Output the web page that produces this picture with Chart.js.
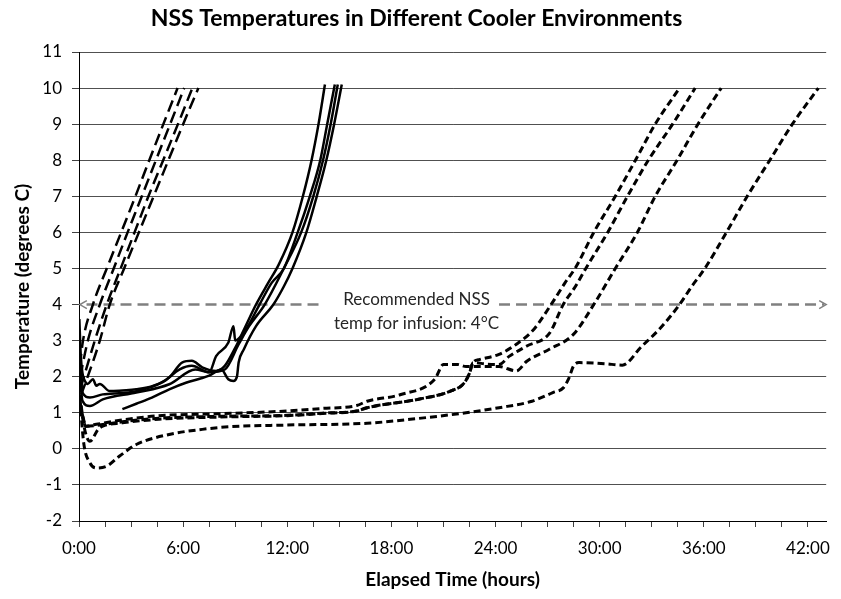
<!DOCTYPE html>
<html>
<head>
<meta charset="utf-8">
<script src="https://cdn.jsdelivr.net/npm/chart.js@4/dist/chart.umd.min.js"></script>
<style>
  body { margin: 0; background: #fff; }
</style>
</head>
<body>
<canvas id="chart" width="841" height="599"></canvas>
<script>
// [hours, degrees C]
// long dash cooler
var longDash1 = [[0.05,2.3],[0.23,3.0],[0.8,4.0],[1.6,5.0],[2.43,6.0],[3.25,7.0],[4.05,8.0],[4.86,9.0],[5.68,10.0]]
var longDash2 = [[0.07,2.0],[0.51,3.0],[1.2,4.0],[2.0,5.0],[2.8,6.0],[3.62,7.0],[4.43,8.0],[5.25,9.0],[6.06,10.0]]
var longDash3 = [[0.1,1.7],[0.91,3.0],[1.6,4.0],[2.4,5.0],[3.2,6.0],[4.0,7.0],[4.85,8.0],[5.7,9.0],[6.53,10.0]]
var longDash4 = [[0.12,1.5],[0.5,2.0],[1.2,3.0],[1.77,4.0],[2.6,5.0],[3.45,6.0],[4.3,7.0],[5.15,8.0],[6.0,9.0],[6.88,10.0]]

// solid cooler
var solid1 = [[0.02,3.6],[0.1,2.6],[0.2,2.1],[0.34,1.88],[0.5,1.8],[0.8,1.93],[1.0,1.75],[1.2,1.8],[1.77,1.6],[2.5,1.62],[3.3,1.65],[4.3,1.75],[5.2,1.98],[5.96,2.4],[6.5,2.44],[7.1,2.26],[7.9,2.16],[8.4,2.3],[9.0,2.8],[9.5,3.3],[10.2,4.0],[10.9,4.6],[11.5,5.1],[12.3,6.0],[12.9,7.0],[13.4,8.0],[13.8,9.0],[14.17,10.1]]
var solid2 = [[0.03,2.8],[0.2,1.56],[0.63,1.42],[1.37,1.51],[2.5,1.55],[3.3,1.6],[4.8,1.84],[5.8,2.2],[6.5,2.3],[7.5,2.12],[7.9,2.57],[8.6,2.94],[8.9,3.4],[9.0,3.0],[9.6,3.3],[10.4,4.0],[11.1,4.6],[11.8,5.0],[12.6,6.0],[13.3,7.0],[13.9,8.0],[14.3,9.0],[14.74,10.1]]
var solid3 = [[0.03,2.2],[0.2,1.33],[0.63,1.19],[1.37,1.37],[3.3,1.56],[5.2,1.79],[6.7,2.2],[7.5,2.12],[8.4,2.2],[9.2,2.9],[9.8,3.4],[10.7,4.0],[11.8,5.0],[12.8,6.0],[13.5,7.0],[14.06,8.0],[14.5,9.0],[14.91,10.1]]
var solid4 = [[2.5,1.1],[3.3,1.25],[4.2,1.42],[5.2,1.65],[6.2,1.84],[7.0,1.95],[7.5,2.03],[8.2,2.2],[8.6,1.93],[8.9,1.88],[9.1,2.0],[9.2,2.4],[9.5,2.76],[10.2,3.4],[11.2,4.0],[11.8,4.5],[12.3,5.0],[13.1,6.0],[13.7,7.0],[14.25,8.0],[14.7,9.0],[15.14,10.1]]

// short dash cooler
var shortDash1 = [[0.05,1.4],[0.27,0.17],[0.63,-0.39],[1.0,-0.53],[1.6,-0.48],[2.34,-0.2],[3.3,0.12],[5.2,0.4],[7.1,0.54],[8.6,0.61],[12,0.66],[16.6,0.71],[19.5,0.84],[22.3,1.0],[24.2,1.14],[26.1,1.32],[27.3,1.56],[27.9,1.69],[28.2,1.93],[28.5,2.3],[28.8,2.39],[30.3,2.36],[31.3,2.32],[32.4,2.83],[33.5,3.35],[34.6,4.0],[35.3,4.5],[36.06,5.0],[37.3,6.0],[38.5,7.0],[39.8,8.0],[41.1,9.0],[42.6,10.0]]
var shortDash2 = [[0.05,1.5],[0.3,0.6],[0.63,0.21],[1.1,0.54],[1.37,0.63],[2.5,0.72],[4.6,0.82],[8,0.88],[12,0.92],[14,0.98],[16.0,1.05],[16.6,1.14],[19.5,1.37],[21.4,1.6],[22.2,1.83],[22.5,2.1],[22.7,2.39],[23.5,2.35],[24.2,2.34],[24.8,2.57],[25.8,2.85],[27.1,3.2],[27.9,4.0],[28.6,4.5],[29.2,5.0],[30.46,6.0],[31.6,7.0],[32.8,8.0],[34.2,9.0],[35.5,10.0]]
var shortDash3 = [[0.05,1.2],[0.44,0.63],[1.0,0.65],[2.5,0.75],[4.6,0.85],[8,0.9],[12,0.93],[14,0.99],[16.0,1.05],[16.6,1.14],[19.5,1.37],[21.4,1.6],[22.2,1.83],[22.5,2.1],[22.7,2.39],[23.1,2.48],[24.2,2.62],[25.2,2.9],[26.2,3.31],[27.2,4.0],[28.0,4.6],[28.63,5.04],[29.66,6.0],[30.9,7.0],[32.06,8.0],[33.2,9.0],[34.6,10.0]]
var shortDash4 = [[0.05,1.3],[0.4,0.62],[1.0,0.68],[2.5,0.8],[4.6,0.92],[8,0.97],[12,1.05],[14,1.12],[16.0,1.2],[16.6,1.32],[18.5,1.5],[20.5,1.93],[21.0,2.34],[21.8,2.34],[22.3,2.28],[24.2,2.28],[25.2,2.16],[25.8,2.43],[27.1,2.76],[28.5,3.18],[29.66,4.0],[30.9,5.0],[32.17,6.0],[33.2,7.0],[34.46,8.0],[35.66,9.0],[37.0,10.0]]

// recommended temp note
var limitTemp = 4
var arrowLeft = [0.05, 13.8]
var arrowRight = [24.2, 43.05]
var noteAt = 19.45
var noteLines = ['Recommended NSS', 'temp for infusion: 4°C']

var xTickHours = []
for (var h = 0; h <= 42; h += 1.5) xTickHours.push(h)

var FONT = 'Lato, "Open Sans", sans-serif'

function series(data, dash, width) {
  return {
    data: data,
    borderColor: '#000',
    borderWidth: width,
    borderDash: dash,
    pointRadius: 0,
    fill: false,
    cubicInterpolationMode: 'monotone'
  }
}

var thresholdNote = {
  id: 'thresholdNote',
  beforeDatasetsDraw: function (chart) {
    var ctx = chart.ctx
    var xs = chart.scales.x
    var y = chart.scales.y.getPixelForValue(limitTemp)
    var l0 = xs.getPixelForValue(arrowLeft[0]), l1 = xs.getPixelForValue(arrowLeft[1])
    var r0 = xs.getPixelForValue(arrowRight[0]), r1 = xs.getPixelForValue(arrowRight[1])
    ctx.save()
    ctx.strokeStyle = '#808080'
    ctx.lineWidth = 2.5
    ctx.setLineDash([11, 6])
    ctx.beginPath()
    ctx.moveTo(l1, y); ctx.lineTo(l0 + 2, y)
    ctx.moveTo(r0, y); ctx.lineTo(r1 - 2, y)
    ctx.stroke()
    ctx.setLineDash([])
    ctx.lineWidth = 1.5
    ctx.beginPath()
    ctx.moveTo(l0 + 7, y - 4); ctx.lineTo(l0, y); ctx.lineTo(l0 + 7, y + 4)
    ctx.moveTo(r1 - 7, y - 4); ctx.lineTo(r1, y); ctx.lineTo(r1 - 7, y + 4)
    ctx.stroke()
    ctx.fillStyle = '#262626'
    ctx.font = '17px ' + FONT
    ctx.textAlign = 'center'
    ctx.textBaseline = 'middle'
    var cx = xs.getPixelForValue(noteAt)
    ctx.fillText(noteLines[0], cx, y - 5)
    ctx.fillText(noteLines[1], cx, y + 19)
    ctx.restore()
  }
}

new Chart(document.getElementById('chart'), {
  type: 'line',
  data: {
    datasets: [
      series(longDash1, [12, 6], 2.5),
      series(longDash2, [12, 6], 2.5),
      series(longDash3, [12, 6], 2.5),
      series(longDash4, [12, 6], 2.5),
      series(solid1, [], 2.5),
      series(solid2, [], 2.5),
      series(solid3, [], 2.5),
      series(solid4, [], 2.5),
      series(shortDash1, [7, 4], 3),
      series(shortDash2, [7, 4], 3),
      series(shortDash3, [7, 4], 3),
      series(shortDash4, [7, 4], 3)
    ]
  },
  options: {
    responsive: false,
    devicePixelRatio: 1,
    animation: false,
    layout: { padding: { left: 0, right: 8, top: 0, bottom: 0 } },
    plugins: {
      legend: { display: false },
      tooltip: { enabled: false },
      title: {
        display: true,
        text: 'NSS Temperatures in Different Cooler Environments',
        color: '#000',
        font: { family: FONT, size: 23, weight: 'bold' },
        padding: { top: 5, bottom: 19.4 }
      }
    },
    scales: {
      x: {
        type: 'linear',
        min: 0,
        max: 43.05,
        afterBuildTicks: function (scale) {
          scale.ticks = xTickHours.map(function (v) { return { value: v } })
        },
        afterFit: function (scale) { scale.height = 78 },
        ticks: {
          autoSkip: false,
          maxRotation: 0,
          padding: 11,
          color: '#000',
          font: { family: FONT, size: 17 },
          callback: function (v) { return v % 6 === 0 ? v + ':00' : '' }
        },
        grid: { drawOnChartArea: false, tickLength: 6, tickColor: '#404040' },
        border: { color: '#000', width: 1 },
        title: {
          display: true,
          text: 'Elapsed Time (hours)',
          color: '#000',
          font: { family: FONT, size: 19, weight: 'bold' },
          padding: { top: 0, bottom: 8 }
        }
      },
      y: {
        min: -2,
        max: 11,
        afterFit: function (scale) { scale.width = 79 },
        ticks: {
          stepSize: 1,
          padding: 10,
          color: '#000',
          font: { family: FONT, size: 17 }
        },
        grid: {
          color: function (c) { return c.tick && c.tick.value === limitTemp ? 'rgba(0,0,0,0)' : '#505050' },
          tickLength: 7,
          tickColor: '#404040'
        },
        border: { color: '#000', width: 1 },
        title: {
          display: true,
          text: 'Temperature (degrees C)',
          color: '#000',
          font: { family: FONT, size: 19, weight: 'bold' },
          padding: { top: 11, bottom: 0 }
        }
      }
    }
  },
  plugins: [thresholdNote]
})
</script>
</body>
</html>
